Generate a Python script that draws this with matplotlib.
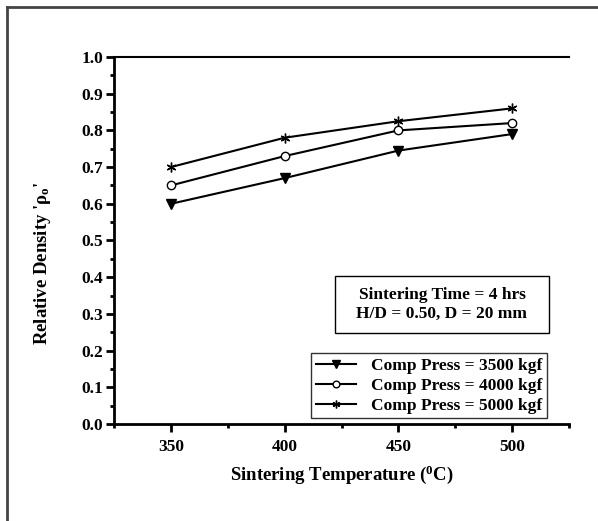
import matplotlib
matplotlib.use('Agg')
import matplotlib.pyplot as plt
from matplotlib.lines import Line2D
from matplotlib.patches import Rectangle
from matplotlib.ticker import MultipleLocator

# data
temps = [350, 400, 450, 500]
rho_3500 = [0.60, 0.67, 0.745, 0.79]
rho_4000 = [0.65, 0.73, 0.80, 0.82]
rho_5000 = [0.70, 0.78, 0.825, 0.86]
labels = ['Comp Press = 3500 kgf', 'Comp Press = 4000 kgf', 'Comp Press = 5000 kgf']

plt.rcParams['font.family'] = ['Liberation Serif', 'DejaVu Serif']
plt.rcParams['font.weight'] = 'bold'
plt.rcParams['mathtext.fontset'] = 'custom'
plt.rcParams['mathtext.rm'] = 'Liberation Serif:bold'
plt.rcParams['mathtext.it'] = 'Liberation Serif:bold'
plt.rcParams['mathtext.bf'] = 'Liberation Serif:bold'

fig = plt.figure(figsize=(5.98, 5.21), dpi=100)
ax = fig.add_axes([114/598, 1-424/521, (569-114)/598, (424-57)/521])

ax.plot(temps, rho_3500, color='black', lw=1.5, marker='v', ms=7, mfc='black', label=labels[0])
ax.plot(temps, rho_4000, color='black', lw=1.5, marker='o', ms=6, mfc='white', mew=1, label=labels[1])
ax.plot(temps, rho_5000, color='black', lw=1.5, marker=(6, 2, 0), ms=7, mew=1, label=labels[2])

ax.set_xlim(325, 525)
ax.set_ylim(0.0, 1.0)
ax.xaxis.set_major_locator(MultipleLocator(50))
ax.xaxis.set_minor_locator(MultipleLocator(25))
ax.yaxis.set_major_locator(MultipleLocator(0.1))
ax.yaxis.set_minor_locator(MultipleLocator(0.05))
ax.set_yticklabels(['%.1f' % v for v in ax.get_yticks()])
ax.tick_params(which='major', direction='out', length=6, width=2, labelsize=12.5, pad=2)
ax.tick_params(which='minor', direction='out', length=3, width=2)
ax.spines['right'].set_visible(False)
ax.spines['left'].set_linewidth(2)
ax.spines['bottom'].set_linewidth(2)
ax.spines['top'].set_linewidth(1.5)
for lab in ax.get_xticklabels() + ax.get_yticklabels():
    lab.set_fontweight('bold')
ax.xaxis.set_tick_params(pad=5)

ax.set_xlabel('Sintering Temperature ($^{\\mathbf{0}}$C)', fontsize=13.5, fontweight='bold', labelpad=6)
ax.set_ylabel("Relative Density '$\\mathbf{\\rho_o}$'", fontsize=13.5, fontweight='bold')
ax.yaxis.set_label_coords((53-114)/455, (424-263)/367)

# info box
fig.add_artist(Rectangle((335/598, 1-333/521), (549-335)/598, (333-276)/521,
                         transform=fig.transFigure, fc='white', ec='black', lw=1))
fig.text(442/598, 1-304.5/521, 'Sintering Time = 4 hrs\nH/D = 0.50, D = 20 mm', ha='center', va='center',
         fontsize=12.5, fontweight='bold', linespacing=1.25)

leg = ax.legend(loc='lower right', bbox_to_anchor=((547-114)/455, (424-418)/367), fontsize=12.5,
                frameon=True, fancybox=False, edgecolor='black', borderpad=0.25, labelspacing=0.22,
                handlelength=2.3, handletextpad=0.9, borderaxespad=0, markerscale=0.8)
leg.get_frame().set_linewidth(1)
for t in leg.get_texts():
    t.set_fontweight('bold')

# outer frame (left and top only)
fig.add_artist(Line2D([7/598, 7/598], [0, 1-7/521], transform=fig.transFigure, color='#444444', lw=2))
fig.add_artist(Line2D([7/598, 1], [1-7/521, 1-7/521], transform=fig.transFigure, color='#444444', lw=2))

fig.savefig('out.png', dpi=100)
